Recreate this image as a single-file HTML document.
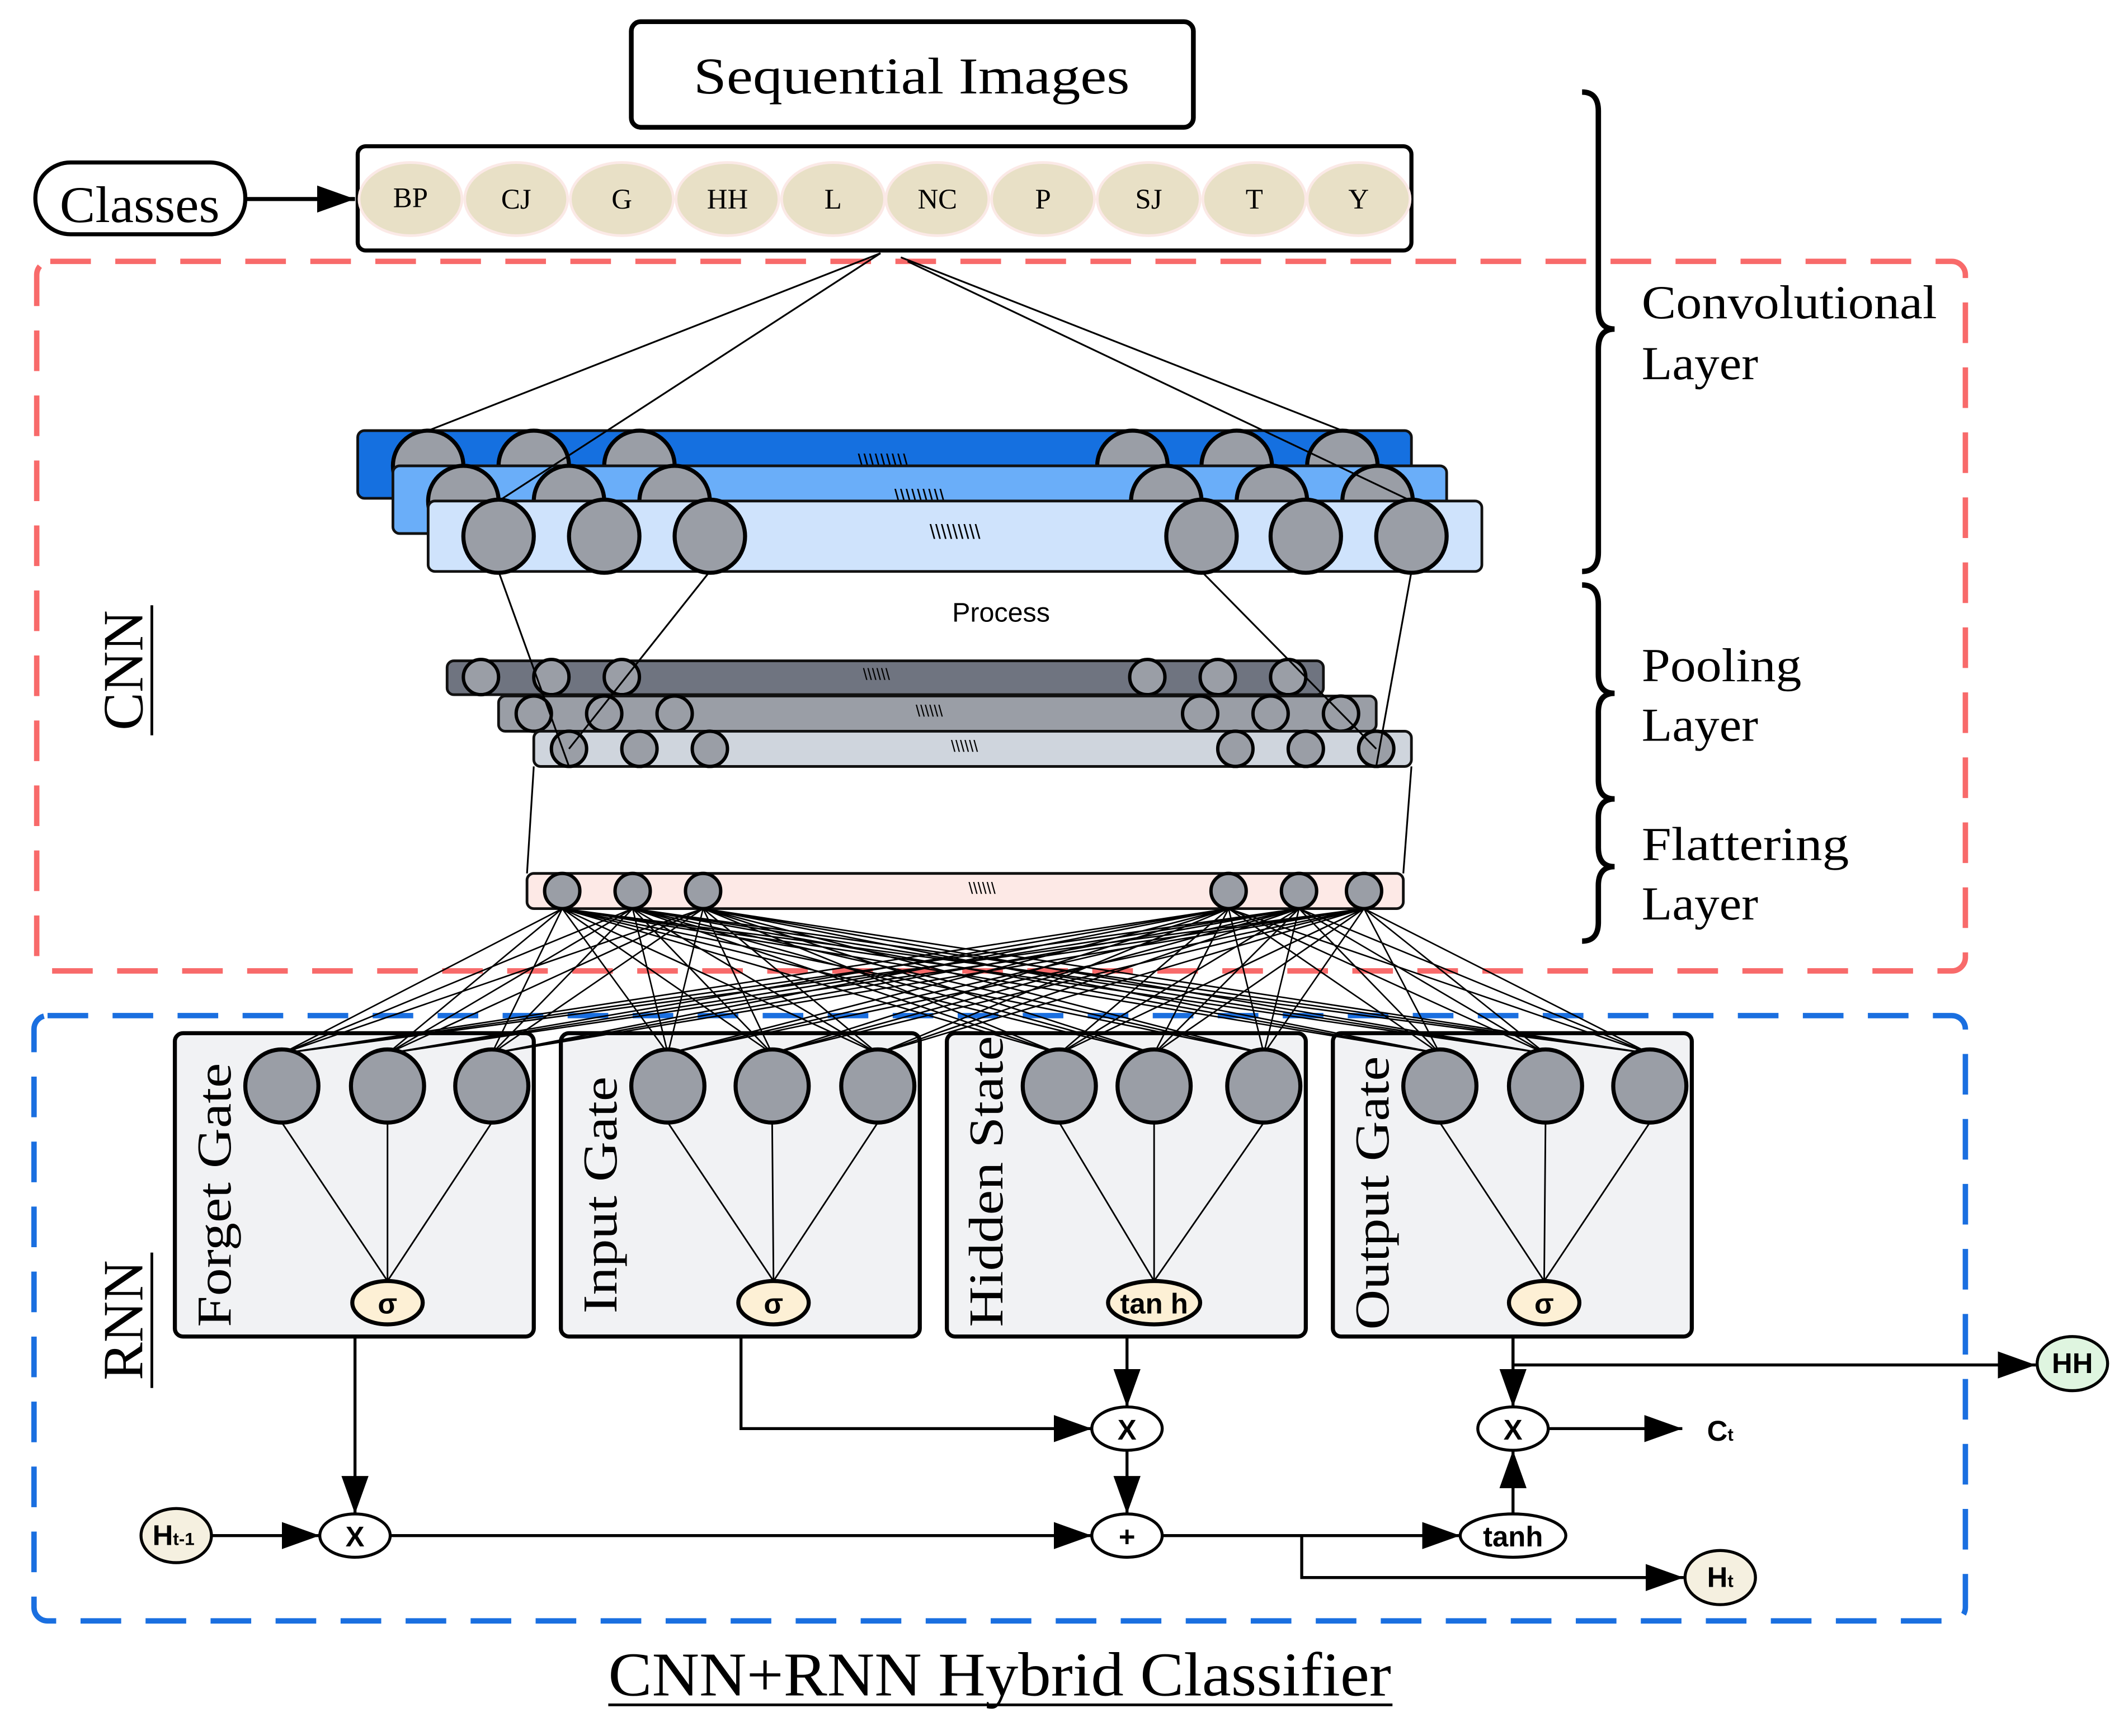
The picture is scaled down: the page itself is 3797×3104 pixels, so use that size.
<!DOCTYPE html>
<html><head><meta charset="utf-8"><style>
html,body{margin:0;padding:0;background:#fff;}
svg{display:block;}
.s{font-family:"Liberation Serif","DejaVu Serif",serif;}
.a{font-family:"Liberation Sans",sans-serif;}
</style></head><body>
<svg width="3797" height="3104" viewBox="0 0 1568 1282" xmlns="http://www.w3.org/2000/svg">
<defs>
<marker id="ar" markerWidth="30" markerHeight="20" refX="28" refY="10" orient="auto" markerUnits="userSpaceOnUse"><path d="M0,0 L28,10 L0,20 z" fill="#000"/></marker>
</defs>
<rect width="1568" height="1282" fill="#fff"/>

<rect x="466" y="16" width="415" height="78" rx="7" fill="#fff" stroke="#000" stroke-width="3.5"/>
<text x="673" y="69" class="s" font-size="38" text-anchor="middle" textLength="322" lengthAdjust="spacingAndGlyphs">Sequential Images</text>
<rect x="26" y="120" width="155" height="53" rx="26" fill="#fff" stroke="#000" stroke-width="3"/>
<text x="103" y="164" class="s" font-size="38" text-anchor="middle" textLength="118" lengthAdjust="spacingAndGlyphs">Classes</text>
<line x1="181" y1="147" x2="262" y2="147" stroke="#000" stroke-width="3" marker-end="url(#ar)"/>
<rect x="264" y="108" width="778" height="77" rx="6" fill="#fff" stroke="#000" stroke-width="3"/>
<g fill="#e8e0c6" stroke="#fbe9e6" stroke-width="2">
<ellipse cx="303" cy="147" rx="38" ry="27"/><ellipse cx="381" cy="147" rx="38" ry="27"/><ellipse cx="459" cy="147" rx="38" ry="27"/><ellipse cx="537" cy="147" rx="38" ry="27"/><ellipse cx="615" cy="147" rx="38" ry="27"/><ellipse cx="692" cy="147" rx="38" ry="27"/><ellipse cx="770" cy="147" rx="38" ry="27"/><ellipse cx="848" cy="147" rx="38" ry="27"/><ellipse cx="926" cy="147" rx="38" ry="27"/><ellipse cx="1003" cy="147" rx="38" ry="27"/>
</g>
<g class="s" font-size="21" text-anchor="middle">
<text x="303" y="153">BP</text><text x="381" y="154">CJ</text><text x="459" y="154">G</text><text x="537" y="154">HH</text><text x="615" y="154">L</text><text x="692" y="154">NC</text><text x="770" y="154">P</text><text x="848" y="154">SJ</text><text x="926" y="154">T</text><text x="1003" y="154">Y</text>
</g>

<g fill="none" stroke="#000" stroke-width="4">
<path d="M1168,68 Q1180,68 1180,82 L1180,228 Q1180,243 1192,243 Q1180,243 1180,258 L1180,408 Q1180,422 1168,422"/>
<path d="M1168,432 Q1180,432 1180,446 L1180,498 Q1180,512 1192,512 Q1180,512 1180,526 L1180,576 Q1180,590 1192,590"/>
<path d="M1192,590 Q1180,590 1180,604 L1180,626 Q1180,640 1192,640 Q1180,640 1180,654 L1180,681 Q1180,695 1168,695"/>
</g>
<g class="s" font-size="35">
<text x="1212" y="235" textLength="218" lengthAdjust="spacingAndGlyphs">Convolutional</text><text x="1212" y="280" textLength="86" lengthAdjust="spacingAndGlyphs">Layer</text>
<text x="1212" y="503" textLength="118" lengthAdjust="spacingAndGlyphs">Pooling</text><text x="1212" y="547" textLength="86" lengthAdjust="spacingAndGlyphs">Layer</text>
<text x="1212" y="635" textLength="153" lengthAdjust="spacingAndGlyphs">Flattering</text><text x="1212" y="679" textLength="86" lengthAdjust="spacingAndGlyphs">Layer</text>
</g>

<rect x="27" y="193" width="1424" height="524" rx="10" fill="none" stroke="#f86a6a" stroke-width="4" stroke-dasharray="30 18"/>
<g transform="translate(105,495) rotate(-90)"><text class="s" font-size="42" text-anchor="middle">CNN</text><line x1="-48" y1="7" x2="48" y2="7" stroke="#000" stroke-width="2"/></g>

<rect x="264" y="318" width="778" height="50" rx="5" fill="#1570e0" stroke="#111" stroke-width="2"/>
<g fill="#9a9ea6" stroke="#000" stroke-width="3"><circle cx="316" cy="344" r="26"/><circle cx="394" cy="344" r="26"/><circle cx="472" cy="344" r="26"/><circle cx="836" cy="344" r="26"/><circle cx="913" cy="344" r="26"/><circle cx="991" cy="344" r="26"/></g>
<text x="652" y="346" class="a" font-size="15" text-anchor="middle">\\\\\\\\\</text>
<rect x="290" y="344" width="778" height="50" rx="5" fill="#6aaef9" stroke="#111" stroke-width="2"/>
<g fill="#9a9ea6" stroke="#000" stroke-width="3"><circle cx="342" cy="370" r="26"/><circle cx="420" cy="370" r="26"/><circle cx="498" cy="370" r="26"/><circle cx="861" cy="370" r="26"/><circle cx="939" cy="370" r="26"/><circle cx="1017" cy="370" r="26"/></g>
<text x="679" y="372" class="a" font-size="15" text-anchor="middle">\\\\\\\\\</text>
<rect x="316" y="370" width="778" height="52" rx="5" fill="#cfe3fc" stroke="#111" stroke-width="2"/>
<g fill="#9a9ea6" stroke="#000" stroke-width="3"><ellipse cx="368" cy="396" rx="26" ry="27"/><ellipse cx="446" cy="396" rx="26" ry="27"/><ellipse cx="524" cy="396" rx="26" ry="27"/><ellipse cx="887" cy="396" rx="26" ry="27"/><ellipse cx="964" cy="396" rx="26" ry="27"/><ellipse cx="1042" cy="396" rx="26" ry="27"/></g>
<text x="705" y="398" class="a" font-size="15" text-anchor="middle">\\\\\\\\\</text>

<g stroke="#000" stroke-width="1.3" fill="none">
<line x1="650" y1="187" x2="316" y2="318"/>
<line x1="650" y1="187" x2="368" y2="370"/>
<line x1="665" y1="190" x2="991" y2="318"/>
<line x1="670" y1="193" x2="1042" y2="370"/>
</g>

<text x="739" y="459" class="a" font-size="20" text-anchor="middle">Process</text>

<rect x="330" y="488" width="647" height="25" rx="5" fill="#6f7480" stroke="#111" stroke-width="2"/>
<g fill="#9a9ea6" stroke="#000" stroke-width="2.5"><ellipse cx="355" cy="500" rx="13" ry="13"/><ellipse cx="407" cy="500" rx="13" ry="13"/><ellipse cx="459" cy="500" rx="13" ry="13"/><ellipse cx="847" cy="500" rx="13" ry="13"/><ellipse cx="899" cy="500" rx="13" ry="13"/><ellipse cx="951" cy="500" rx="13" ry="13"/></g>
<text x="647" y="502" class="a" font-size="12" text-anchor="middle">\\\\\\</text>
<rect x="368" y="514" width="648" height="26" rx="5" fill="#9a9ea6" stroke="#111" stroke-width="2"/>
<g fill="#9a9ea6" stroke="#000" stroke-width="2.5"><ellipse cx="394" cy="527" rx="13" ry="13"/><ellipse cx="446" cy="527" rx="13" ry="13"/><ellipse cx="498" cy="527" rx="13" ry="13"/><ellipse cx="886" cy="527" rx="13" ry="13"/><ellipse cx="938" cy="527" rx="13" ry="13"/><ellipse cx="990" cy="527" rx="13" ry="13"/></g>
<text x="686" y="529" class="a" font-size="12" text-anchor="middle">\\\\\\</text>
<rect x="394" y="540" width="648" height="26" rx="5" fill="#cfd5dd" stroke="#111" stroke-width="2"/>
<g fill="#9a9ea6" stroke="#000" stroke-width="2.5"><ellipse cx="420" cy="553" rx="13" ry="13"/><ellipse cx="472" cy="553" rx="13" ry="13"/><ellipse cx="524" cy="553" rx="13" ry="13"/><ellipse cx="912" cy="553" rx="13" ry="13"/><ellipse cx="964" cy="553" rx="13" ry="13"/><ellipse cx="1016" cy="553" rx="13" ry="13"/></g>
<text x="712" y="555" class="a" font-size="12" text-anchor="middle">\\\\\\</text>

<g stroke="#000" stroke-width="1.3">
<line x1="368" y1="422" x2="420" y2="566"/>
<line x1="524" y1="422" x2="420" y2="553"/>
<line x1="887" y1="422" x2="1016" y2="553"/>
<line x1="1042" y1="422" x2="1016" y2="566"/>
<line x1="394" y1="566" x2="389" y2="645"/>
<line x1="1042" y1="566" x2="1036" y2="645"/>
</g>

<rect x="389" y="645" width="647" height="26" rx="5" fill="#fde9e6" stroke="#111" stroke-width="2"/>
<g fill="#9a9ea6" stroke="#000" stroke-width="2.5"><ellipse cx="415" cy="658" rx="13" ry="13"/><ellipse cx="467" cy="658" rx="13" ry="13"/><ellipse cx="519" cy="658" rx="13" ry="13"/><ellipse cx="907" cy="658" rx="13" ry="13"/><ellipse cx="959" cy="658" rx="13" ry="13"/><ellipse cx="1007" cy="658" rx="13" ry="13"/></g>
<text x="725" y="660" class="a" font-size="12" text-anchor="middle">\\\\\\</text>

<rect x="25" y="750" width="1426" height="447" rx="10" fill="none" stroke="#1a6fe0" stroke-width="4" stroke-dasharray="30 18"/>
<g transform="translate(105,975) rotate(-90)"><text class="s" font-size="42" text-anchor="middle">RNN</text><line x1="-50" y1="7" x2="50" y2="7" stroke="#000" stroke-width="2"/></g>

<g fill="#f1f2f4" stroke="#000" stroke-width="3">
<rect x="129" y="763" width="265" height="224" rx="6"/>
<rect x="414" y="763" width="265" height="224" rx="6"/>
<rect x="699" y="763" width="265" height="224" rx="6"/>
<rect x="984" y="763" width="265" height="224" rx="6"/>
</g>
<g class="s" font-size="36">
<text transform="translate(170,980) rotate(-90)" textLength="195" lengthAdjust="spacingAndGlyphs">Forget Gate</text>
<text transform="translate(455,970) rotate(-90)" textLength="175" lengthAdjust="spacingAndGlyphs">Input Gate</text>
<text transform="translate(740,980) rotate(-90)" textLength="215" lengthAdjust="spacingAndGlyphs">Hidden State</text>
<text transform="translate(1025,982) rotate(-90)" textLength="202" lengthAdjust="spacingAndGlyphs">Output Gate</text>
</g>

<g stroke="#000" stroke-width="1.1">
<path d="M415 671L208 778M415 671L286 778M415 671L363 778M415 671L493 778M415 671L570 778M415 671L648 778M415 671L782 778M415 671L852 778M415 671L933 778M415 671L1063 778M415 671L1141 778M415 671L1218 778
M467 671L208 778M467 671L286 778M467 671L363 778M467 671L493 778M467 671L570 778M467 671L648 778M467 671L782 778M467 671L852 778M467 671L933 778M467 671L1063 778M467 671L1141 778M467 671L1218 778
M519 671L208 778M519 671L286 778M519 671L363 778M519 671L493 778M519 671L570 778M519 671L648 778M519 671L782 778M519 671L852 778M519 671L933 778M519 671L1063 778M519 671L1141 778M519 671L1218 778
M907 671L208 778M907 671L286 778M907 671L363 778M907 671L493 778M907 671L570 778M907 671L648 778M907 671L782 778M907 671L852 778M907 671L933 778M907 671L1063 778M907 671L1141 778M907 671L1218 778
M959 671L208 778M959 671L286 778M959 671L363 778M959 671L493 778M959 671L570 778M959 671L648 778M959 671L782 778M959 671L852 778M959 671L933 778M959 671L1063 778M959 671L1141 778M959 671L1218 778
M1007 671L208 778M1007 671L286 778M1007 671L363 778M1007 671L493 778M1007 671L570 778M1007 671L648 778M1007 671L782 778M1007 671L852 778M1007 671L933 778M1007 671L1063 778M1007 671L1141 778M1007 671L1218 778" fill="none"/>
</g>

<g stroke="#000" stroke-width="1.2">
<line x1="208" y1="829" x2="286" y2="946"/><line x1="286" y1="829" x2="286" y2="946"/><line x1="363" y1="829" x2="286" y2="946"/>
<line x1="493" y1="829" x2="571" y2="946"/><line x1="570" y1="829" x2="571" y2="946"/><line x1="648" y1="829" x2="571" y2="946"/>
<line x1="782" y1="829" x2="852" y2="946"/><line x1="852" y1="829" x2="852" y2="946"/><line x1="933" y1="829" x2="852" y2="946"/>
<line x1="1063" y1="829" x2="1140" y2="946"/><line x1="1141" y1="829" x2="1140" y2="946"/><line x1="1218" y1="829" x2="1140" y2="946"/>
</g>
<g fill="#9a9ea6" stroke="#000" stroke-width="3">
<circle cx="208" cy="802" r="27"/><circle cx="286" cy="802" r="27"/><circle cx="363" cy="802" r="27"/>
<circle cx="493" cy="802" r="27"/><circle cx="570" cy="802" r="27"/><circle cx="648" cy="802" r="27"/>
<circle cx="782" cy="802" r="27"/><circle cx="852" cy="802" r="27"/><circle cx="933" cy="802" r="27"/>
<circle cx="1063" cy="802" r="27"/><circle cx="1141" cy="802" r="27"/><circle cx="1218" cy="802" r="27"/>
</g>
<g fill="#fdf0d5" stroke="#000" stroke-width="3">
<ellipse cx="286" cy="962" rx="26" ry="16"/><ellipse cx="571" cy="962" rx="26" ry="16"/><ellipse cx="852" cy="962" rx="34" ry="16"/><ellipse cx="1140" cy="962" rx="26" ry="16"/>
</g>
<g class="a" font-size="21" font-weight="bold" text-anchor="middle">
<text x="286" y="970">σ</text><text x="571" y="970">σ</text><text x="852" y="970">tan h</text><text x="1140" y="970">σ</text>
</g>

<g stroke="#000" stroke-width="2.2" fill="none">
<line x1="262" y1="987" x2="262" y2="1118" marker-end="url(#ar)"/>
<line x1="156" y1="1134" x2="236" y2="1134" marker-end="url(#ar)"/>
<line x1="288" y1="1134" x2="806" y2="1134" marker-end="url(#ar)"/>
<polyline points="547,987 547,1055 806,1055" marker-end="url(#ar)"/>
<line x1="832" y1="987" x2="832" y2="1039" marker-end="url(#ar)"/>
<line x1="832" y1="1071" x2="832" y2="1118" marker-end="url(#ar)"/>
<line x1="858" y1="1134" x2="1078" y2="1134" marker-end="url(#ar)"/>
<polyline points="961,1134 961,1165 1243,1165" marker-end="url(#ar)"/>
<line x1="1117" y1="1118" x2="1117" y2="1071" marker-end="url(#ar)"/>
<line x1="1117" y1="987" x2="1117" y2="1039" marker-end="url(#ar)"/>
<polyline points="1117,987 1117,1008 1503,1008" marker-end="url(#ar)"/>
<line x1="1143" y1="1055" x2="1242" y2="1055" marker-end="url(#ar)"/>
</g>
<g stroke="#000" stroke-width="2.2">
<ellipse cx="130" cy="1134" rx="26" ry="20" fill="#f5f0e0"/>
<ellipse cx="262" cy="1134" rx="26" ry="16" fill="#fff"/>
<ellipse cx="832" cy="1134" rx="26" ry="16" fill="#fff"/>
<ellipse cx="832" cy="1055" rx="26" ry="16" fill="#fff"/>
<ellipse cx="1117" cy="1055" rx="26" ry="16" fill="#fff"/>
<ellipse cx="1117" cy="1134" rx="39" ry="16" fill="#fff"/>
<ellipse cx="1270" cy="1165" rx="26" ry="20" fill="#f5f0e0"/>
<ellipse cx="1530" cy="1007" rx="26" ry="20" fill="#dff5e0"/>
</g>
<g class="a" font-size="21" font-weight="bold" text-anchor="middle">
<text x="128" y="1141">H<tspan font-size="13">t-1</tspan></text>
<text x="262" y="1142">X</text>
<text x="832" y="1142">+</text>
<text x="832" y="1063">X</text>
<text x="1117" y="1063">X</text>
<text x="1117" y="1142">tanh</text>
<text x="1270" y="1172">H<tspan font-size="13">t</tspan></text>
<text x="1530" y="1014">HH</text>
<text x="1270" y="1064">C<tspan font-size="13">t</tspan></text>
</g>

<text x="738" y="1252" class="s" font-size="46" text-anchor="middle" textLength="578" lengthAdjust="spacingAndGlyphs">CNN+RNN Hybrid Classifier</text>
<line x1="449" y1="1259" x2="1028" y2="1259" stroke="#000" stroke-width="2"/>
</svg>
</body></html>
